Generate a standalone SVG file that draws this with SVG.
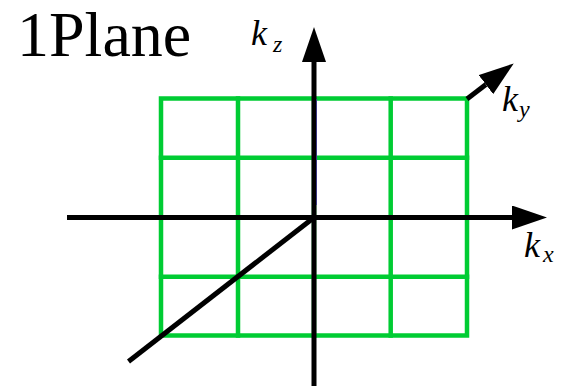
<svg xmlns="http://www.w3.org/2000/svg" width="569" height="386" viewBox="0 0 569 386">
<defs>
<style>
.grid{stroke:#00cc33;stroke-width:4.5;fill:none;stroke-linecap:square}
.axis{stroke:#000;stroke-width:5;fill:none}
text{font-family:'Liberation Serif','Times New Roman','DejaVu Serif',serif;fill:#000}
.lbl{font-style:italic;font-size:36px}
.sub{font-style:italic;font-size:24px}
.title{font-size:64px}
</style>
<marker id="ah" viewBox="0 0 35 24" refX="0" refY="12" markerWidth="35" markerHeight="24" markerUnits="userSpaceOnUse" orient="auto">
<path d="M0,0 L35,12 L0,24 Z" fill="#000"/>
</marker>
</defs>
<rect width="569" height="386" fill="#fff"/>
<text class="title" x="17" y="56">1Plane</text>
<g id="grid">
<rect class="grid" x="161" y="98.5" width="306" height="237"/>
<line class="grid" x1="238" y1="98.5" x2="238" y2="335.5"/>
<line class="grid" x1="314" y1="98.5" x2="314" y2="335.5"/>
<line class="grid" x1="390.7" y1="98.5" x2="390.7" y2="335.5"/>
<line class="grid" x1="161" y1="157.7" x2="467" y2="157.7"/>
<line class="grid" x1="161" y1="217.5" x2="467" y2="217.5"/>
<line class="grid" x1="161" y1="276.7" x2="467" y2="276.7"/>
<line x1="316.5" y1="99" x2="316.5" y2="205" stroke="#6f6fff" stroke-width="1"/>
</g>
<g id="connectors">
<line id="kx-axis" class="axis" x1="67" y1="217.5" x2="512" y2="217.5" marker-end="url(#ah)"/>
<line id="kz-axis" class="axis" x1="314" y1="386" x2="314" y2="62" marker-end="url(#ah)"/>
<line id="ky-axis" class="axis" x1="467" y1="99" x2="485.9" y2="84.6" marker-end="url(#ah)"/>
<line id="diag" class="axis" x1="314" y1="217.5" x2="128.5" y2="361.5"/>
</g>
<g id="label-kz">
<text class="lbl" x="251" y="45">k</text>
<text class="sub" x="273" y="52">z</text>
</g>
<g id="label-ky">
<text class="lbl" x="502" y="111">k</text>
<text class="sub" x="519" y="117">y</text>
</g>
<g id="label-kx">
<text class="lbl" x="524" y="257">k</text>
<text class="sub" x="543" y="262">x</text>
</g>
</svg>
